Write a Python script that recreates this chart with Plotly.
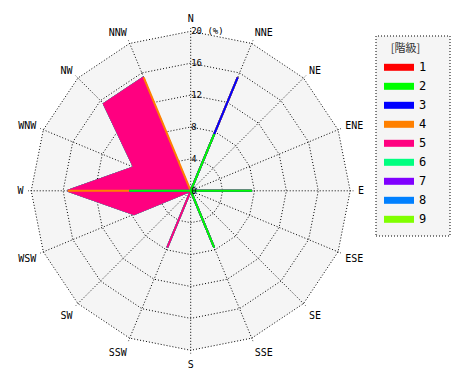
import math
import plotly.graph_objects as go

# 16 compass directions (clockwise from north)
directions = ["N", "NNE", "NE", "ENE", "E", "ESE", "SE", "SSE",
              "S", "SSW", "SW", "WSW", "W", "WNW", "NW", "NNW"]

# class labels and colours
class_names = ["1", "2", "3", "4", "5", "6", "7", "8", "9"]
class_colors = ["#ff0000", "#00ff00", "#0000ff", "#ff8000", "#ff0080",
                "#00ff80", "#8000ff", "#0080ff", "#80ff00"]

# frequency (%) of each class per direction
class1 = [0, 0, 0, 0, 0, 0, 0, 0, 0, 0, 0, 0, 0, 0, 0, 0]
class2 = [0, 7.7, 0, 0, 7.7, 0, 0, 7.7, 0, 0, 0, 0, 7.7, 0, 0, 0]
class3 = [0, 7.7, 0, 0, 0, 0, 0, 0, 0, 0, 0, 0, 0, 0, 0, 0]
class4 = [0, 0, 0, 0, 0, 0, 0, 0, 0, 0, 0, 0, 7.7, 0, 0, 15.4]
class5 = [0, 0, 0, 0, 0, 0, 0, 0, 0, 7.7, 0, 7.7, 0, 7.7, 15.4, 0]
class6 = [0, 0, 0, 0, 0, 0, 0, 0, 0, 0, 0, 0, 0, 0, 0, 0]
class7 = [0, 0, 0, 0, 0, 0, 0, 0, 0, 0, 0, 0, 0, 0, 0, 0]
class8 = [0, 0, 0, 0, 0, 0, 0, 0, 0, 0, 0, 0, 0, 0, 0, 0]
class9 = [0, 0, 0, 0, 0, 0, 0, 0, 0, 0, 0, 0, 0, 0, 0, 0]

radial_ticks = [0, 4, 8, 12, 16, 20]
radial_ticktext = ["0", "4", "8", "12", "16", "20 (%)"]
radial_max = 20.4

classes = [class1, class2, class3, class4, class5,
           class6, class7, class8, class9]

# stacked (cumulative) totals
cumulative = []
running = [0.0] * len(directions)
for vals in classes:
    running = [a + b for a, b in zip(running, vals)]
    cumulative.append(list(running))

fig = go.Figure()
# draw the largest (outermost) class first so lower classes sit on top
for i in reversed(range(len(classes))):
    fig.add_trace(go.Scatterpolar(
        r=cumulative[i],
        theta=directions,
        mode="lines",
        fill="toself",
        fillcolor=class_colors[i],
        line=dict(color=class_colors[i], width=2),
        name=class_names[i],
        hoverinfo="skip",
    ))

mono = "DejaVu Sans Mono"
dots = "1px,2px"

# plot centre / radius (pixels) of the outer (20 %) ring
W, H = 470, 380
cx, cy, r20 = 190.7, 190.8, 159.5
rfull = r20 * radial_max / radial_ticks[-1]

# light grey background polygon (paper coords) under the polar grid
pts = []
n = len(directions)
for k in range(n):
    a = 2 * math.pi * k / n
    px = (cx + r20 * math.sin(a)) / W
    py = 1 - (cy - r20 * math.cos(a)) / H
    pts.append(f"{px:.5f},{py:.5f}")
bg_path = "M" + " L".join(pts) + " Z"

fig.update_layout(
    width=W, height=H,
    margin=dict(l=0, r=0, t=0, b=0),
    paper_bgcolor="white",
    font=dict(family=mono, size=10, color="black"),
    polar=dict(
        domain=dict(x=[(cx - rfull) / W, (cx + rfull) / W],
                    y=[1 - (cy + rfull) / H, 1 - (cy - rfull) / H]),
        bgcolor="rgba(0,0,0,0)",
        gridshape="linear",
        angularaxis=dict(
            type="category",
            categoryarray=directions,
            rotation=90,
            direction="clockwise",
            showline=False,
            showgrid=True,
            gridcolor="black",
            gridwidth=1,
            griddash=dots,
            ticks="outside",
            ticklen=2,
            tickcolor="rgba(0,0,0,0)",
            tickfont=dict(family=mono, size=10, color="black"),
        ),
        radialaxis=dict(
            range=[0, radial_max],
            angle=90,
            tickvals=radial_ticks,
            ticktext=radial_ticktext,
            showline=False,
            showgrid=True,
            gridcolor="black",
            gridwidth=1,
            griddash=dots,
            ticks="",
            side="clockwise",
            tickangle=90,
            tickfont=dict(family=mono, size=9, color="black"),
        ),
    ),
    legend=dict(
        x=379 / 470, y=1 - 38 / 380,
        xanchor="left", yanchor="top",
        bgcolor="rgba(0,0,0,0)",
        borderwidth=0,
        traceorder="reversed",
        itemwidth=30,
        font=dict(family=mono, size=12, color="black"),
        title=dict(text="[階級]", side="top center",
                   font=dict(family="Noto Sans CJK JP", size=11, color="#333333")),
    ),
    shapes=[
        dict(type="path", xref="paper", yref="paper", layer="below",
             path=bg_path, fillcolor="#f5f5f5", line=dict(width=0)),
        dict(type="rect", xref="paper", yref="paper", layer="below",
             x0=376 / 470, x1=450 / 470, y0=1 - 236 / 380, y1=1 - 36 / 380,
             fillcolor="#f5f5f5",
             line=dict(color="black", width=1, dash=dots)),
    ],
    showlegend=True,
)

fig.write_html("out.html")
